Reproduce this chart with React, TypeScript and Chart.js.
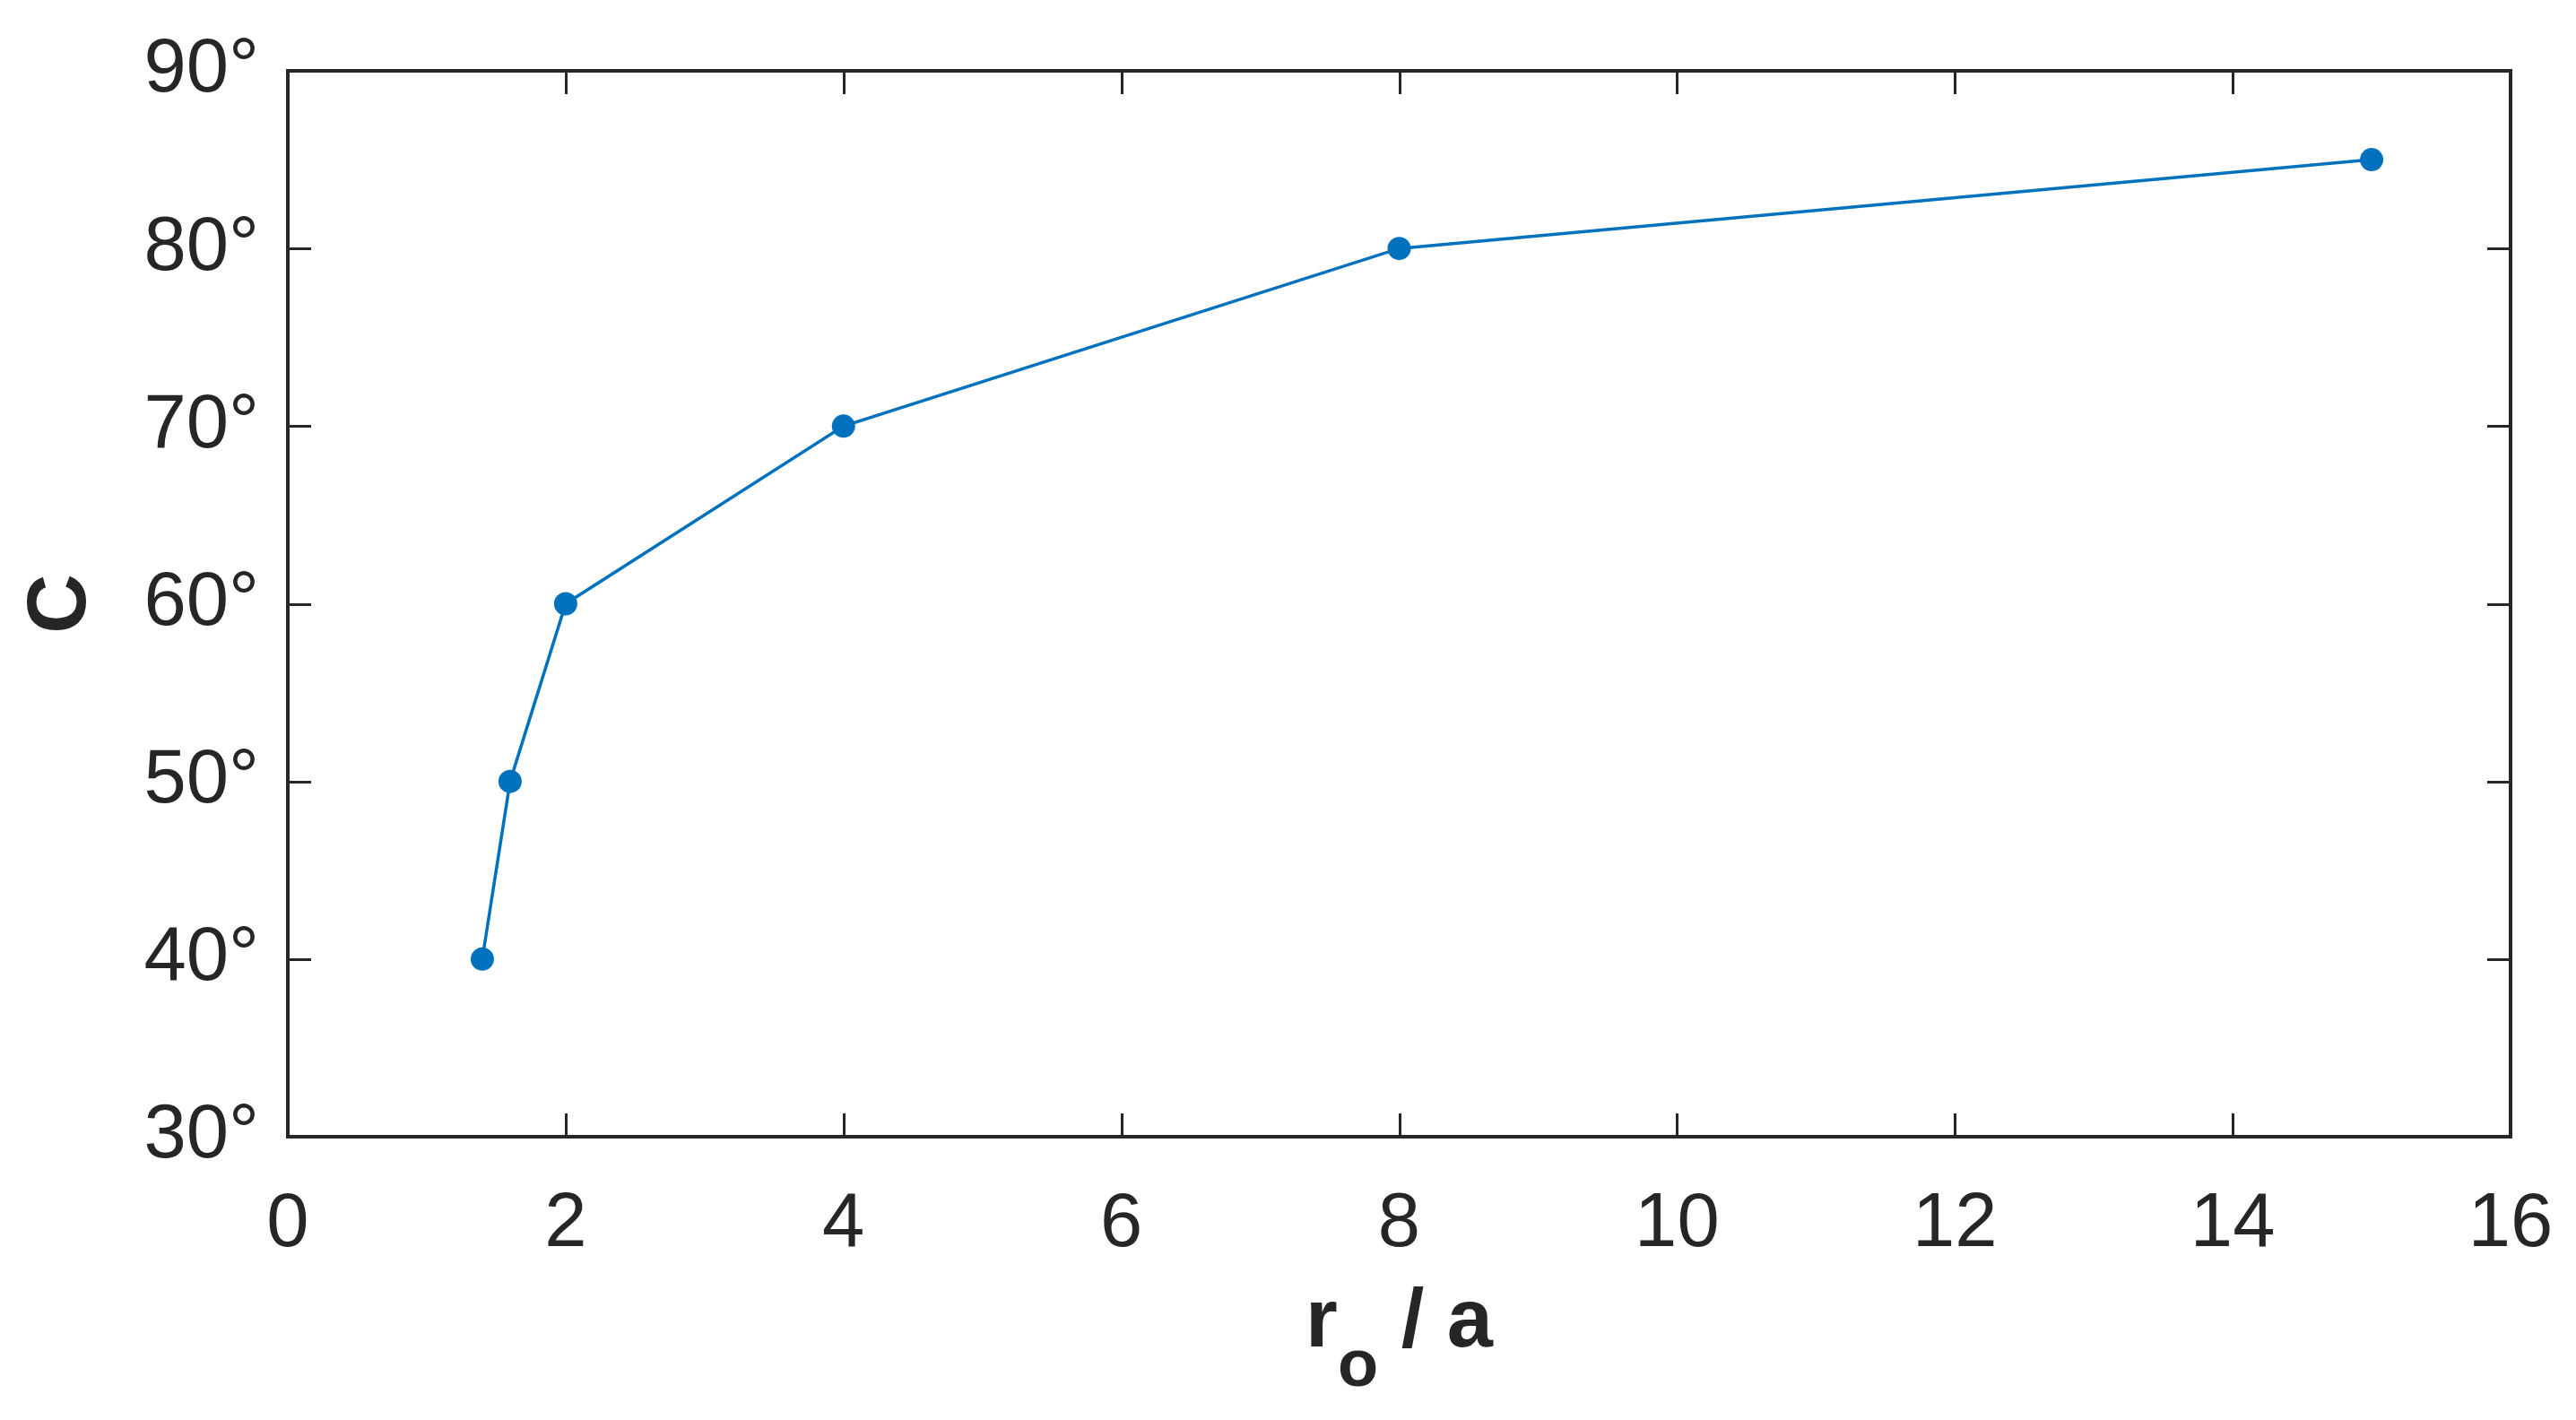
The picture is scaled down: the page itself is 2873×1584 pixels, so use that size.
import React, { useEffect, useRef } from "react";
import { Chart, registerables } from "chart.js";

Chart.register(...registerables);

const ratioValues: number[] = [1.4, 1.6, 2, 4, 8, 15];
const angleValues: number[] = [40, 50, 60, 70, 80, 85];
const xTickValues: number[] = [0, 2, 4, 6, 8, 10, 12, 14, 16];
const yTickValues: number[] = [30, 40, 50, 60, 70, 80, 90];
const yTitle = "C";
const xTitleMain = "r";
const xTitleSub = "o";
const xTitleRest = " / a";

const W = 2873;
const H = 1584;
const AXIS_COLOR = "#262626";
const LINE_COLOR = "#0072BD";
const FONT = "'Liberation Sans', Arial, Helvetica, sans-serif";

const boxPlugin = {
  id: "matlabBox",
  afterDraw(chart: any) {
    const { ctx, chartArea } = chart;
    const { left, right, top, bottom } = chartArea;
    const xs = chart.scales.x;
    const ys = chart.scales.y;
    ctx.save();
    ctx.strokeStyle = AXIS_COLOR;
    ctx.lineWidth = 3;
    const tl = 26;
    ctx.beginPath();
    xTickValues.forEach((v) => {
      const px = Math.round(xs.getPixelForValue(v)) + 0.5;
      ctx.moveTo(px, bottom);
      ctx.lineTo(px, bottom - tl);
      ctx.moveTo(px, top);
      ctx.lineTo(px, top + tl);
    });
    yTickValues.forEach((v) => {
      const py = Math.round(ys.getPixelForValue(v)) + 0.5;
      ctx.moveTo(left, py);
      ctx.lineTo(left + tl, py);
      ctx.moveTo(right, py);
      ctx.lineTo(right - tl, py);
    });
    ctx.stroke();
    ctx.lineWidth = 4;
    ctx.strokeRect(left, top, right - left, bottom - top);

    // Axis titles
    ctx.fillStyle = AXIS_COLOR;
    const mainFont = `bold 92px ${FONT}`;
    const subFont = `bold 74px ${FONT}`;
    ctx.font = mainFont;
    const wMain = ctx.measureText(xTitleMain).width;
    const wRest = ctx.measureText(xTitleRest).width;
    ctx.font = subFont;
    const wSub = ctx.measureText(xTitleSub).width;
    const total = wMain + wSub + wRest;
    const cx = (left + right) / 2;
    let x0 = cx - total / 2;
    const baseY = 1502;
    ctx.textBaseline = "alphabetic";
    ctx.textAlign = "left";
    ctx.font = mainFont;
    ctx.fillText(xTitleMain, x0, baseY);
    x0 += wMain;
    ctx.font = subFont;
    ctx.fillText(xTitleSub, x0, baseY + 44);
    x0 += wSub;
    ctx.font = mainFont;
    ctx.fillText(xTitleRest, x0, baseY);

    ctx.translate(70, (top + bottom) / 2);
    ctx.rotate(-Math.PI / 2);
    ctx.textAlign = "center";
    ctx.textBaseline = "middle";
    ctx.font = mainFont;
    ctx.fillText(yTitle, 0, 0);
    ctx.restore();
  },
};

export default function App() {
  const canvasRef = useRef<HTMLCanvasElement | null>(null);

  useEffect(() => {
    const canvas = canvasRef.current;
    if (!canvas) return;
    const points = ratioValues.map((x, i) => ({ x, y: angleValues[i] }));
    const chart = new Chart(canvas, {
      type: "line",
      data: {
        datasets: [
          {
            data: points,
            borderColor: LINE_COLOR,
            backgroundColor: LINE_COLOR,
            borderWidth: 3.5,
            pointRadius: 13,
            pointBorderWidth: 0,
            pointBackgroundColor: LINE_COLOR,
            fill: false,
            tension: 0,
          },
        ],
      },
      options: {
        animation: false,
        responsive: false,
        devicePixelRatio: 1,
        layout: { padding: { top: 79, right: 73, left: 0, bottom: 0 } },
        plugins: {
          legend: { display: false },
          tooltip: { enabled: false },
          title: { display: false },
        },
        scales: {
          x: {
            type: "linear",
            min: 0,
            max: 16,
            grid: { display: false },
            border: { display: false },
            ticks: {
              stepSize: 2,
              autoSkip: false,
              maxRotation: 0,
              padding: 40,
              color: AXIS_COLOR,
              font: { family: FONT, size: 85 },
            },
            afterFit: (scale: any) => {
              scale.height = 316;
              scale.paddingLeft = 0;
              scale.paddingRight = 0;
            },
          },
          y: {
            type: "linear",
            min: 30,
            max: 90,
            grid: { display: false },
            border: { display: false },
            ticks: {
              stepSize: 10,
              autoSkip: false,
              padding: 24,
              color: AXIS_COLOR,
              font: { family: FONT, size: 85 },
              callback: (v: any) => `${v}°`,
            },
            afterFit: (scale: any) => {
              scale.width = 321;
              scale.paddingTop = 0;
              scale.paddingBottom = 0;
            },
          },
        },
      },
      plugins: [boxPlugin],
    });
    return () => chart.destroy();
  }, []);

  return (
    <div style={{ position: "absolute", left: 0, top: 0, width: W, height: H, background: "#fff" }}>
      <canvas ref={canvasRef} width={W} height={H} style={{ width: W, height: H, display: "block" }} />
    </div>
  );
}
